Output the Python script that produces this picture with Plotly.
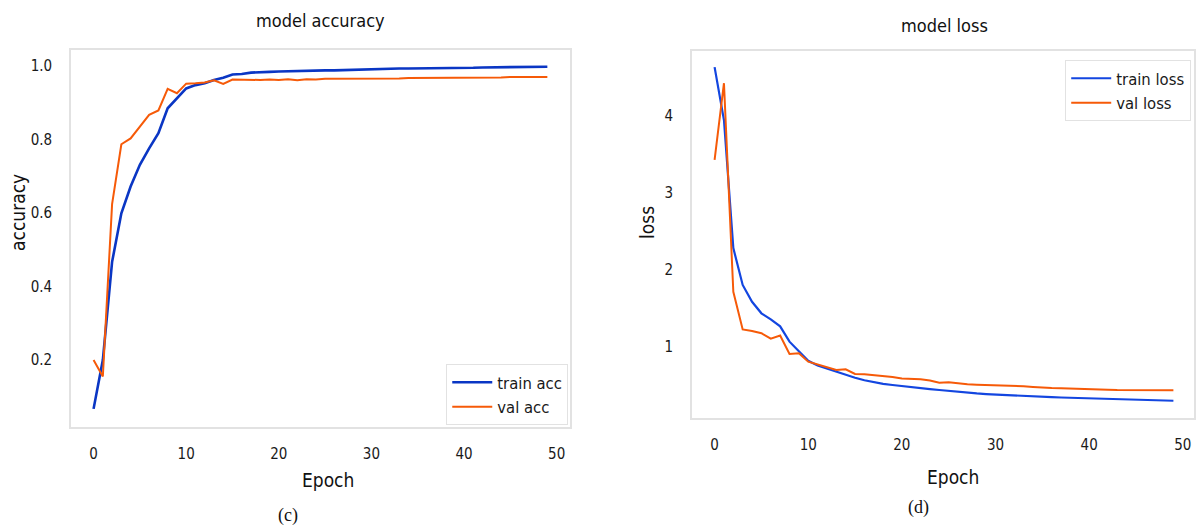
import plotly.graph_objects as go

epochs = list(range(50))

train_acc = [0.067, 0.20, 0.467, 0.599, 0.672, 0.731, 0.776, 0.817, 0.885, 0.912,
             0.939, 0.948, 0.953, 0.962, 0.968, 0.977, 0.978, 0.982, 0.984, 0.984,
             0.985, 0.986, 0.986, 0.987, 0.987, 0.988, 0.988, 0.989, 0.990, 0.991,
             0.992, 0.992, 0.992, 0.993, 0.993, 0.993, 0.994, 0.994, 0.994, 0.995,
             0.995, 0.995, 0.996, 0.996, 0.997, 0.997, 0.997, 0.997, 0.998, 0.998]
val_acc = [0.200, 0.155, 0.624, 0.787, 0.803, 0.835, 0.867, 0.879, 0.938, 0.926,
           0.952, 0.953, 0.955, 0.961, 0.951, 0.963, 0.962, 0.961, 0.962, 0.963,
           0.962, 0.964, 0.961, 0.964, 0.963, 0.965, 0.965, 0.964, 0.966, 0.965,
           0.966, 0.966, 0.964, 0.966, 0.967, 0.967, 0.968, 0.967, 0.968, 0.967,
           0.969, 0.968, 0.969, 0.968, 0.969, 0.970, 0.970, 0.971, 0.970, 0.970]

train_loss = [4.64, 3.95, 2.28, 1.80, 1.58, 1.43, 1.35, 1.26, 1.06, 0.93,
              0.81, 0.75, 0.71, 0.665, 0.63, 0.59, 0.557, 0.53, 0.51, 0.495,
              0.48, 0.468, 0.456, 0.442, 0.43, 0.417, 0.405, 0.39, 0.385, 0.377,
              0.37, 0.364, 0.358, 0.352, 0.346, 0.34, 0.336, 0.332, 0.328, 0.324,
              0.32, 0.316, 0.312, 0.308, 0.304, 0.30, 0.298, 0.296, 0.294, 0.29]
val_loss = [3.43, 4.43, 1.71, 1.22, 1.20, 1.17, 1.10, 1.14, 0.90, 0.91,
            0.80, 0.76, 0.73, 0.69, 0.70, 0.64, 0.635, 0.625, 0.61, 0.60,
            0.58, 0.578, 0.57, 0.555, 0.526, 0.53, 0.515, 0.505, 0.50, 0.497,
            0.495, 0.49, 0.485, 0.478, 0.47, 0.46, 0.456, 0.452, 0.45, 0.445,
            0.44, 0.437, 0.434, 0.43, 0.43, 0.43, 0.428, 0.427, 0.426, 0.426]

x_ticks = [0, 10, 20, 30, 40, 50]
acc_ticks = [0.2, 0.4, 0.6, 0.8, 1.0]
loss_ticks = [1, 2, 3, 4]

BLUE_DARK = "#0a36c4"
BLUE = "#1346e0"
ORANGE = "#f65a08"
FRAME = "#e2e2e2"
FONT = "DejaVu Sans Condensed"
TEXT = "#1a1a1a"
W, H = 1196, 529


def py(px):
    return 1 - px / H


def px_x(px):
    return px / W


fig = go.Figure()

fig.add_trace(go.Scatter(x=epochs, y=train_acc, mode="lines", name="train acc",
                         line=dict(color=BLUE_DARK, width=2.6), xaxis="x", yaxis="y",
                         legend="legend"))
fig.add_trace(go.Scatter(x=epochs, y=val_acc, mode="lines", name="val acc",
                         line=dict(color=ORANGE, width=2), xaxis="x", yaxis="y",
                         legend="legend"))
fig.add_trace(go.Scatter(x=epochs, y=train_loss, mode="lines", name="train loss",
                         line=dict(color=BLUE, width=2.2), xaxis="x2", yaxis="y2",
                         legend="legend2"))
fig.add_trace(go.Scatter(x=epochs, y=val_loss, mode="lines", name="val loss",
                         line=dict(color=ORANGE, width=2), xaxis="x2", yaxis="y2",
                         legend="legend2"))

axis_common = dict(showgrid=False, zeroline=False, ticks="", showline=True,
                   linecolor=FRAME, linewidth=1.5, mirror=True,
                   tickfont=dict(family=FONT, size=15, color=TEXT))

legend_common = dict(xanchor="left", yanchor="top", bgcolor="white",
                     bordercolor=FRAME, borderwidth=1,
                     font=dict(family=FONT, size=16.5, color=TEXT),
                     itemwidth=40, tracegroupgap=2)

fig.update_layout(
    width=W, height=H,
    margin=dict(l=0, r=0, t=0, b=0),
    paper_bgcolor="white", plot_bgcolor="white",
    font=dict(family=FONT, color=TEXT),
    xaxis=dict(domain=[px_x(71), px_x(571)], range=[-2.45, 51.45],
               tickvals=x_ticks, ticklabelstandoff=12, anchor="y", **axis_common),
    yaxis=dict(domain=[py(427), py(50)], range=[0.0177, 1.0435],
               tickvals=acc_ticks, ticktext=[f"{v:.1f}" for v in acc_ticks],
               ticklabelstandoff=14, anchor="x", **axis_common),
    xaxis2=dict(domain=[px_x(693), px_x(1196)], range=[-2.43, 51.2],
                tickvals=x_ticks, ticklabelstandoff=12, anchor="y2", **axis_common),
    yaxis2=dict(domain=[py(418), py(51)], range=[0.065, 4.85],
                tickvals=loss_ticks, ticklabelstandoff=14, anchor="x2", **axis_common),
    legend=dict(x=px_x(447), y=py(364), **legend_common),
    legend2=dict(x=px_x(1067), y=py(60), **legend_common),
    showlegend=True,
)

labels = [
    dict(text="model accuracy", x=321, y=20, size=18, family=FONT, angle=0),
    dict(text="model loss", x=946, y=25, size=18, family=FONT, angle=0),
    dict(text="accuracy", x=18, y=212, size=19, family=FONT, angle=-90),
    dict(text="Epoch", x=329, y=480, size=19, family=FONT, angle=0),
    dict(text="loss", x=648, y=222, size=19, family=FONT, angle=-90),
    dict(text="Epoch", x=955, y=477, size=19, family=FONT, angle=0),
    dict(text="(c)", x=288, y=515, size=18, family="Liberation Serif", angle=0),
    dict(text="(d)", x=920, y=507, size=18, family="Liberation Serif", angle=0),
]
for lb in labels:
    fig.add_annotation(text=lb["text"], x=px_x(lb["x"]), y=py(lb["y"]),
                       xref="paper", yref="paper", xanchor="center", yanchor="middle",
                       showarrow=False, textangle=lb["angle"],
                       font=dict(family=lb["family"], size=lb["size"], color="#111111"))

fig.write_html("out.html")
